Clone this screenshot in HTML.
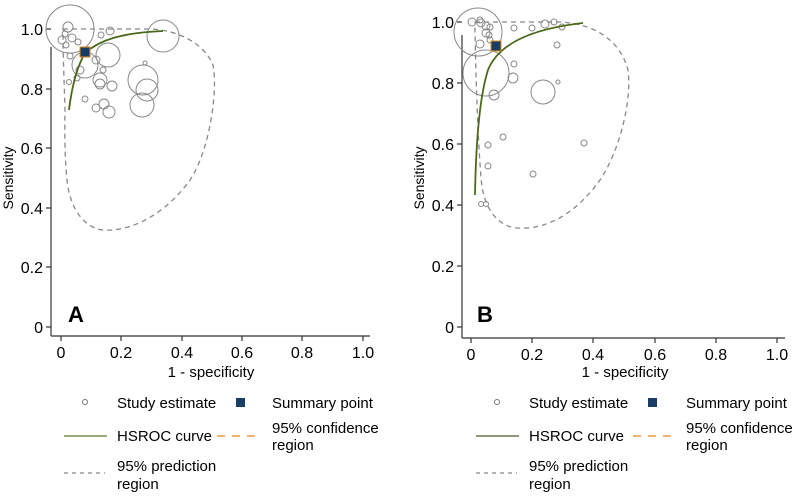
<!DOCTYPE html>
<html><head><style>body{margin:0;background:#fff}svg{display:block;font-family:"Liberation Sans",sans-serif}</style></head><body>
<svg width="800" height="500" viewBox="0 0 800 500" xmlns="http://www.w3.org/2000/svg">
<g fill="#000" font-size="15">
<!-- Panel A axes -->
<g stroke="#333" stroke-width="1.2" fill="none">
<line x1="51" y1="47" x2="51" y2="336"/><line x1="51" y1="336" x2="370" y2="336"/>
<line x1="46" y1="29" x2="51" y2="29"/><line x1="46" y1="89" x2="51" y2="89"/><line x1="46" y1="148" x2="51" y2="148"/><line x1="46" y1="208" x2="51" y2="208"/><line x1="46" y1="267" x2="51" y2="267"/><line x1="46" y1="327" x2="51" y2="327"/>
<line x1="61" y1="336" x2="61" y2="341"/><line x1="121" y1="336" x2="121" y2="341"/><line x1="182" y1="336" x2="182" y2="341"/><line x1="242" y1="336" x2="242" y2="341"/><line x1="302" y1="336" x2="302" y2="341"/><line x1="363" y1="336" x2="363" y2="341"/>
</g>
<g text-anchor="end" font-size="16"><text x="43" y="35">1.0</text><text x="43" y="95">0.8</text><text x="43" y="154">0.6</text><text x="43" y="214">0.4</text><text x="43" y="273">0.2</text><text x="43" y="333">0</text></g>
<g text-anchor="middle" font-size="16"><text x="61" y="358">0</text><text x="121" y="358">0.2</text><text x="182" y="358">0.4</text><text x="242" y="358">0.6</text><text x="302" y="358">0.8</text><text x="363" y="358">1.0</text></g>
<text x="211" y="377" text-anchor="middle">1 - specificity</text>
<text transform="translate(13,178) rotate(-90)" text-anchor="middle" font-size="14">Sensitivity</text>
<text x="68" y="322" font-size="22" font-weight="bold">A</text>
<path d="M63,29 L150,29 C180,30 205,45 213,65 C218,90 210,150 190,180 C165,215 130,232 103,230 C85,228 70,210 67,180 C64,150 65,120 65,110 L63,47 Z" fill="none" stroke="#888" stroke-width="1.3" stroke-dasharray="5,4"/>
<g fill="none" stroke="#888" stroke-width="1">
<circle cx="70" cy="29" r="24"/><circle cx="163" cy="36" r="16"/><circle cx="108" cy="55" r="12"/><circle cx="85" cy="65" r="13"/><circle cx="143" cy="80" r="15"/><circle cx="147" cy="90" r="11"/><circle cx="142" cy="105" r="12"/>
<circle cx="68" cy="27" r="5"/><circle cx="65" cy="34" r="3"/><circle cx="62" cy="40" r="4"/><circle cx="72" cy="38" r="4"/><circle cx="66" cy="45" r="3"/><circle cx="78" cy="42" r="3"/><circle cx="101" cy="35" r="3"/><circle cx="110" cy="31" r="4"/><circle cx="96" cy="60" r="4"/><circle cx="80" cy="70" r="4"/><circle cx="100" cy="80" r="7"/><circle cx="100" cy="84" r="5"/><circle cx="103" cy="70" r="3"/><circle cx="112" cy="86" r="5"/><circle cx="77" cy="78" r="3"/><circle cx="69" cy="82" r="2.5"/><circle cx="85" cy="99" r="3"/><circle cx="104" cy="104" r="5"/><circle cx="96" cy="108" r="4"/><circle cx="109" cy="112" r="6"/><circle cx="145" cy="63" r="2"/><circle cx="70" cy="56" r="3"/>
</g>
<path d="M69,110 C72,85 78,65 85,53 C100,40 120,33 163,31" fill="none" stroke="#4a6a1a" stroke-width="1.8"/>
<rect x="80" y="47" width="10" height="10" fill="#1a3d66" stroke="#e08a1e" stroke-width="1"/>
<!-- Legend A -->
<circle cx="85" cy="402" r="2.5" fill="none" stroke="#777"/><text x="117" y="408">Study estimate</text>
<rect x="236" y="398" width="9" height="9" fill="#1a3d66"/><text x="272" y="408">Summary point</text>
<line x1="64" y1="436" x2="107" y2="436" stroke="#5a7a2a" stroke-width="1.3"/><text x="117" y="441">HSROC curve</text>
<line x1="217" y1="436" x2="262" y2="436" stroke="#e08a1e" stroke-width="1.3" stroke-dasharray="8,7"/><text x="272" y="433">95% confidence</text><text x="272" y="450">region</text>
<line x1="64" y1="473" x2="105" y2="473" stroke="#888" stroke-width="1.3" stroke-dasharray="4,4"/><text x="117" y="471">95% prediction</text><text x="117" y="489">region</text>

<!-- Panel B axes -->
<g stroke="#333" stroke-width="1.2" fill="none">
<line x1="462" y1="35" x2="462" y2="338"/><line x1="462" y1="338" x2="785" y2="338"/>
<line x1="457" y1="22" x2="462" y2="22"/><line x1="457" y1="83" x2="462" y2="83"/><line x1="457" y1="144" x2="462" y2="144"/><line x1="457" y1="205" x2="462" y2="205"/><line x1="457" y1="266" x2="462" y2="266"/><line x1="457" y1="327" x2="462" y2="327"/>
<line x1="471" y1="338" x2="471" y2="343"/><line x1="532" y1="338" x2="532" y2="343"/><line x1="593" y1="338" x2="593" y2="343"/><line x1="655" y1="338" x2="655" y2="343"/><line x1="716" y1="338" x2="716" y2="343"/><line x1="777" y1="338" x2="777" y2="343"/>
</g>
<g text-anchor="end" font-size="16"><text x="454" y="28">1.0</text><text x="454" y="89">0.8</text><text x="454" y="150">0.6</text><text x="454" y="211">0.4</text><text x="454" y="272">0.2</text><text x="454" y="333">0</text></g>
<g text-anchor="middle" font-size="16"><text x="471" y="360">0</text><text x="532" y="360">0.2</text><text x="593" y="360">0.4</text><text x="655" y="360">0.6</text><text x="716" y="360">0.8</text><text x="777" y="360">1.0</text></g>
<text x="625" y="377" text-anchor="middle">1 - specificity</text>
<text transform="translate(424,178) rotate(-90)" text-anchor="middle" font-size="14">Sensitivity</text>
<text x="477" y="322" font-size="22" font-weight="bold">B</text>
<path d="M475,22 L560,22 C595,24 620,40 628,70 C632,100 620,150 600,180 C575,215 545,230 517,228 C495,226 485,205 482,187 C478,150 476,80 475,33 Z" fill="none" stroke="#888" stroke-width="1.3" stroke-dasharray="5,4"/>
<g fill="none" stroke="#888" stroke-width="1">
<circle cx="478" cy="32" r="24"/><circle cx="486" cy="73" r="23"/><circle cx="543" cy="92" r="12"/>
<circle cx="472" cy="22" r="4"/><circle cx="480" cy="20" r="3"/><circle cx="481" cy="23" r="4"/><circle cx="486" cy="26" r="4"/><circle cx="490" cy="27" r="3"/><circle cx="486" cy="33" r="4"/><circle cx="489" cy="35" r="3"/><circle cx="480" cy="44" r="4"/><circle cx="490" cy="40" r="3"/><circle cx="514" cy="28" r="3"/><circle cx="532" cy="28" r="3"/><circle cx="545" cy="24" r="4"/><circle cx="554" cy="22" r="3"/><circle cx="562" cy="27" r="3"/><circle cx="557" cy="45" r="3"/><circle cx="514" cy="64" r="3"/><circle cx="513" cy="78" r="5"/><circle cx="494" cy="95" r="5"/><circle cx="558" cy="82" r="2"/><circle cx="503" cy="137" r="3"/><circle cx="488" cy="145" r="3"/><circle cx="488" cy="166" r="3"/><circle cx="533" cy="174" r="3"/><circle cx="584" cy="143" r="3"/><circle cx="481" cy="204" r="2.5"/><circle cx="486" cy="204" r="2.5"/>
</g>
<path d="M475,195 C476,140 480,95 488,70 C496,50 520,30 583,23" fill="none" stroke="#4a6a1a" stroke-width="1.8"/>
<rect x="491" y="41" width="10" height="10" fill="#1a3d66" stroke="#e08a1e" stroke-width="1"/>
<!-- Legend B -->
<circle cx="497" cy="402" r="2.5" fill="none" stroke="#777"/><text x="529" y="408">Study estimate</text>
<rect x="648" y="398" width="9" height="9" fill="#1a3d66"/><text x="686" y="408">Summary point</text>
<line x1="476" y1="436" x2="519" y2="436" stroke="#4a5a2a" stroke-width="1.3"/><text x="529" y="441">HSROC curve</text>
<line x1="633" y1="436" x2="677" y2="436" stroke="#e08a1e" stroke-width="1.3" stroke-dasharray="8,7"/><text x="686" y="433">95% confidence</text><text x="686" y="450">region</text>
<line x1="476" y1="473" x2="517" y2="473" stroke="#888" stroke-width="1.3" stroke-dasharray="4,4"/><text x="529" y="471">95% prediction</text><text x="529" y="489">region</text>
</g>
</svg>
</body></html>
